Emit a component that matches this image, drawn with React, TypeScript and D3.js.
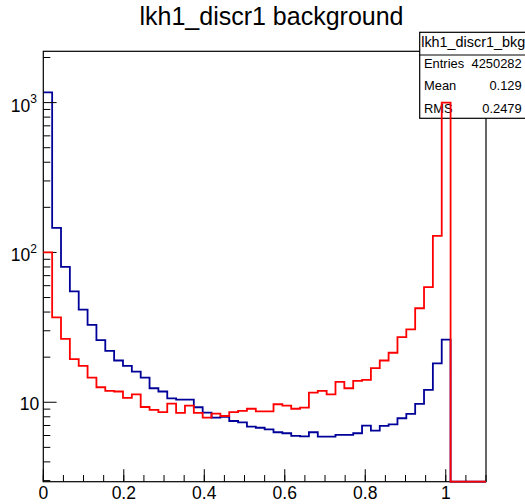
import React from "react";
import * as d3 from "d3";

// Histogram definition: 50 bins on [0, 1.1]
const X_MIN = 0;
const X_MAX = 1.1;
const N_BINS = 50;

// blue series (lkh1_discr1_bkg)
const blueCounts = [
  1170, 146, 80, 55, 41.5, 32.8, 26, 22, 19, 17.5,
  16, 14.6, 12.4, 11.8, 10.6, 10.4, 10.4, 9.26, 8.53, 7.9,
  8.0, 7.5, 7.35, 6.87, 6.76, 6.6, 6.31, 6.21, 5.96, 5.92,
  6.31, 5.89, 5.89, 6.05, 6.05, 6.21, 6.98, 6.46, 6.95, 7.13,
  7.82, 8.36, 9.75, 12.1, 18.2, 26.2, 0, 0, 0, 0,
];

// red series
const redCounts = [
  100, 36.9, 26.5, 19.4, 17.5, 14.6, 12.6, 11.9, 11.8, 10.7,
  11.3, 9.3, 8.9, 8.6, 9.8, 8.5, 9.5, 8.5, 7.9, 8.4,
  8.1, 8.6, 8.75, 9.05, 8.7, 8.7, 9.7, 9.5, 9.05, 9.2,
  11.6, 11.9, 11.3, 13.7, 12.4, 13.9, 14.1, 16.9, 19.0, 21.4,
  27.2, 30.7, 42.4, 58.6, 129, 1000, 0, 0, 0, 0,
];

const xTickValues = [0, 0.2, 0.4, 0.6, 0.8, 1];
const xTickLabels = ["0", "0.2", "0.4", "0.6", "0.8", "1"];
const xMinorStep = 0.05;
const yMajorTicks = [10, 100, 1000];
const yMajorLabels = [
  { base: "10", exp: "" },
  { base: "10", exp: "2" },
  { base: "10", exp: "3" },
];
const titleText = "lkh1_discr1 background";
const statsTitle = "lkh1_discr1_bkg";
const statsLabels = ["Entries", "Mean", "RMS"];
const statsValues = ["4250282", "0.129", "0.2479"];

const FONT = "'Liberation Sans', Arial, Helvetica, sans-serif";

export default function App() {
  const W = 525;
  const H = 504;
  const left = 43.3;
  const right = 486;
  const top = 51.3;
  const bottom = 481.7;

  const x = d3.scaleLinear().domain([X_MIN, X_MAX]).range([left, right]);
  const y = d3.scaleLog().domain([2.95, 2200]).range([bottom, top]);
  const binW = (X_MAX - X_MIN) / N_BINS;

  const yv = (v: number) => (v > y.domain()[0] ? y(v) : bottom);

  const histPath = (counts: number[]) => {
    const pts: [number, number][] = [];
    counts.forEach((c, i) => {
      const x0 = x(X_MIN + i * binW);
      const x1 = x(X_MIN + (i + 1) * binW);
      pts.push([x0, yv(c)], [x1, yv(c)]);
    });
    return d3.line()(pts) || "";
  };

  // minor ticks
  const xMinor: number[] = [];
  for (let k = 0; k * xMinorStep <= X_MAX + 1e-9; k++) xMinor.push(k * xMinorStep);
  const yMinor: number[] = [];
  [1, 10, 100, 1000].forEach((d) => {
    for (let m = 2; m <= 9; m++) {
      const v = m * d;
      if (v >= y.domain()[0] && v <= y.domain()[1]) yMinor.push(v);
    }
  });

  const sbX = 419.7;
  const sbY = 32.3;
  const sbH = 86;

  return (
    <svg
      width={W}
      height={H}
      style={{ position: "absolute", left: 0, top: 0, background: "#fff" }}
      fontFamily={FONT}
    >
      <rect x={0} y={0} width={W} height={H} fill="#fff" />
      {/* title */}
      <text x={271.5} y={25} fontSize={25} textAnchor="middle" fill="#000">
        {titleText}
      </text>

      {/* blue histogram */}
      <path d={histPath(blueCounts)} fill="none" stroke="#000099" strokeWidth={1.8} />

      {/* frame */}
      <rect x={left} y={top} width={right - left} height={bottom - top} fill="none" stroke="#000" strokeWidth={1.2} />

      {/* x axis ticks */}
      {xMinor.map((v, i) => (
        <line key={"xm" + i} x1={x(v)} x2={x(v)} y1={bottom} y2={bottom - 6.7} stroke="#000" strokeWidth={1} />
      ))}
      {xTickValues.map((v, i) => (
        <g key={"xt" + i}>
          <line x1={x(v)} x2={x(v)} y1={bottom} y2={bottom - 12.5} stroke="#000" strokeWidth={1} />
          <text x={x(v)} y={499.3} fontSize={17.5} textAnchor="middle" fill="#000">
            {xTickLabels[i]}
          </text>
        </g>
      ))}

      {/* y axis ticks */}
      {yMinor.map((v, i) => (
        <line key={"ym" + i} x1={left} x2={left + 7} y1={y(v)} y2={y(v)} stroke="#000" strokeWidth={1} />
      ))}
      {yMajorTicks.map((v, i) => (
        <g key={"yt" + i}>
          <line x1={left} x2={left + 13.3} y1={y(v)} y2={y(v)} stroke="#000" strokeWidth={1} />
          {yMajorLabels[i].exp === "" ? (
            <text x={39.3} y={y(v) + 7.7} fontSize={17.5} textAnchor="end" fill="#000">
              {yMajorLabels[i].base}
            </text>
          ) : (
            <text x={37} y={y(v) + 9} fontSize={17.5} textAnchor="end" fill="#000">
              {yMajorLabels[i].base}
              <tspan fontSize={12} dy={-8.4}>
                {yMajorLabels[i].exp}
              </tspan>
            </text>
          )}
        </g>
      ))}

      {/* stats box */}
      <rect x={sbX} y={sbY} width={120} height={sbH} fill="#fff" stroke="#000" strokeWidth={1.2} />
      <line x1={sbX} x2={W} y1={55} y2={55} stroke="#000" strokeWidth={1} />
      <text x={sbX + 1.5} y={47} fontSize={14.4} fill="#000">
        {statsTitle}
      </text>
      {statsLabels.map((lab, i) => (
        <g key={"st" + i}>
          <text x={424} y={67.7 + i * 22.5} fontSize={12.9} fill="#000">
            {lab}
          </text>
          <text x={521.7} y={67.7 + i * 22.5} fontSize={12.9} textAnchor="end" fill="#000">
            {statsValues[i]}
          </text>
        </g>
      ))}

      {/* red histogram (drawn with "same", on top) */}
      <path d={histPath(redCounts)} fill="none" stroke="#ff0000" strokeWidth={1.8} />
    </svg>
  );
}
